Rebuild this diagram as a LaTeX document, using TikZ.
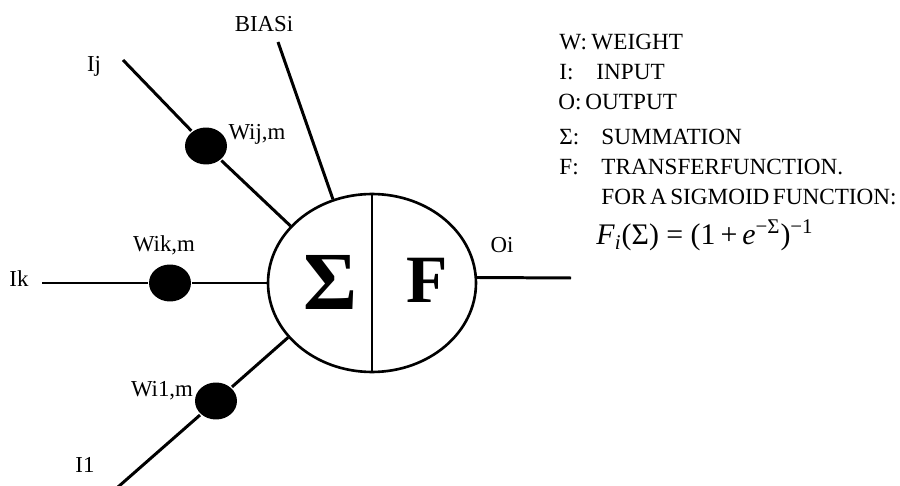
\documentclass[tikz,border=0pt]{standalone}
\usepackage{fontspec}
\setmainfont{Liberation Serif}
\usetikzlibrary{shapes.geometric}

\begin{document}
\begin{tikzpicture}[
  x=0.02cm, y=-0.02cm,
  line width=1.7pt,
  lbl/.style={font=\fontsize{13}{15}\selectfont, inner sep=0pt, anchor=base},
  leg/.style={font=\fontsize{13.2}{16}\selectfont, inner sep=0pt, anchor=base west},
  big/.style={font=\bfseries, inner sep=0pt},
  weight/.style={ellipse, fill=black, inner sep=0pt,
    minimum width=0.84cm, minimum height=0.74cm},
  neuron/.style={ellipse, draw, line width=1.5pt, inner sep=0pt,
    minimum width=4.16cm, minimum height=3.56cm},
]
  \useasboundingbox (0,0) rectangle (900,486);

  % the unit: summation and transfer function
  \node[neuron] (unit) at (372,283) {};
  \draw[line width=1.5pt] (unit.north) -- (unit.south);
  \node[big, font=\fontsize{47}{50}\selectfont\bfseries] (sum) at (330,282) {Σ};
  \node[big, font=\fontsize{38.5}{42}\selectfont\bfseries] (tf) at (427,280) {F};

  % input ends and weights
  \coordinate (ij) at (123,60);
  \coordinate (ik) at (42,283);
  \coordinate (il) at (118,487);
  \coordinate (bias) at (278,42);
  \coordinate (oi) at (571,278);
  \node[weight] (wij) at (206,146) {};
  \node[weight] (wik) at (170,283) {};
  \node[weight] (wil) at (216,401) {};

  \draw (ij) -- (wij) -- (unit.145);
  \draw (ik) -- (wik) -- (unit.west);
  \draw (il) -- (wil) -- (unit.213);
  \draw (bias) -- (unit.115);
  \draw (unit.3) -- (oi);

  % labels
  \node[lbl] (tij) at (94,72) {Ij};
  \node[lbl] (tbias) at (264,32) {BIASi};
  \node[lbl] (twij) at (257,140) {Wij,m};
  \node[lbl] (twik) at (164,252) {Wik,m};
  \node[lbl] (tik) at (19,287) {Ik};
  \node[lbl] (twil) at (162,397) {Wi1,m};
  \node[lbl] (til) at (85,472) {I1};
  \node[lbl] (toi) at (502,253) {Oi};

  % legend
  \node[leg] (kw) at (558,50) {W:};
  \node[leg] (dw) at (590,50) {WEIGHT};
  \node[leg] (ki) at (558,80) {I:};
  \node[leg] (di) at (595,80) {INPUT};
  \node[leg] (ko) at (557,110) {O:};
  \node[leg] (do) at (584,110) {OUTPUT};
  \node[leg] (ks) at (558,145) {Σ:};
  \node[leg] (ds) at (600,145) {SUMMATION};
  \node[leg] (kf) at (558,175) {F:};
  \node[leg] (df) at (600,175) {TRANSFERFUNCTION.};
  \node[leg] (dsig) at (600,205) {\spaceskip=0.15em FOR A SIGMOID FUNCTION:};
  \node[leg, font=\fontsize{17}{20}\selectfont] (eq) at (595,245)
    {\textit{F}\textsubscript{\textit{i}}(Σ) = (1\,+\,\textit{e}\textsuperscript{−Σ})\textsuperscript{−1}};
\end{tikzpicture}
\end{document}
